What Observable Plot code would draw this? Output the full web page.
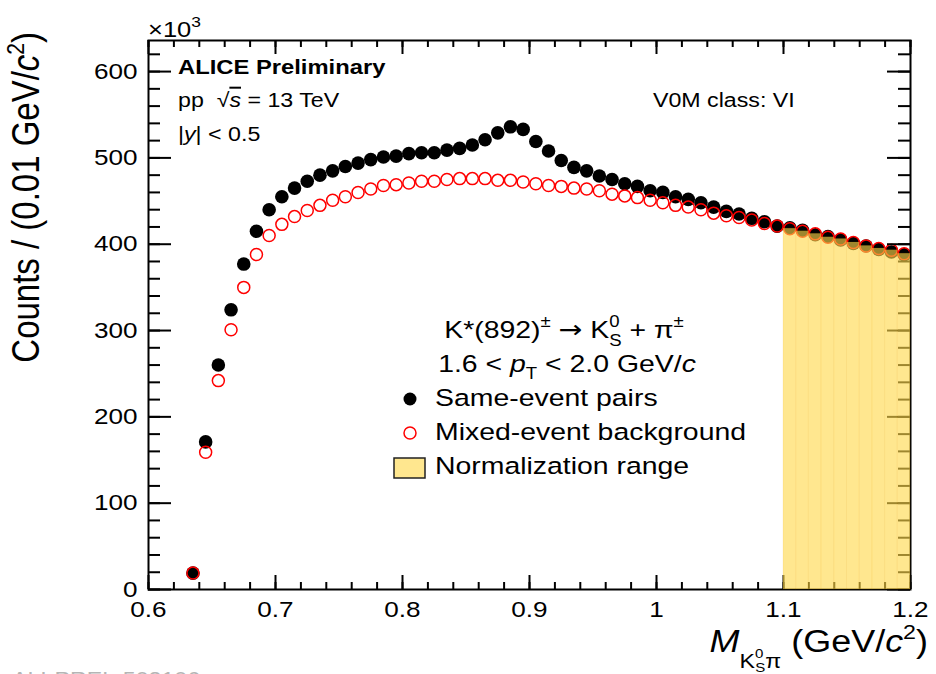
<!DOCTYPE html>
<html>
<head>
<meta charset="utf-8">
<script src="https://cdn.jsdelivr.net/npm/d3@7"></script>
<script src="https://cdn.jsdelivr.net/npm/@observablehq/plot@0.6"></script>
<style>
  html, body { margin: 0; padding: 0; background: #fff; }
  #chart svg { display: block; overflow: hidden; }
</style>
</head>
<body>
<div id="chart"></div>
<script>
// ---- data (counts in units of 10^3 per 0.01 GeV/c^2 bin) ----
const massBins = [0.635, 0.645, 0.655, 0.665, 0.675, 0.685, 0.695, 0.705, 0.715, 0.725,
  0.735, 0.745, 0.755, 0.765, 0.775, 0.785, 0.795, 0.805, 0.815, 0.825,
  0.835, 0.845, 0.855, 0.865, 0.875, 0.885, 0.895, 0.905, 0.915, 0.925,
  0.935, 0.945, 0.955, 0.965, 0.975, 0.985, 0.995, 1.005, 1.015, 1.025,
  1.035, 1.045, 1.055, 1.065, 1.075, 1.085, 1.095, 1.105, 1.115, 1.125,
  1.135, 1.145, 1.155, 1.165, 1.175, 1.185, 1.195];
const sameEvent = [19, 171, 260, 324, 377, 415, 440, 455, 465, 473,
  480, 485, 490, 494, 498, 501, 502, 505, 506, 506,
  509, 511, 515, 521, 529, 536, 533, 519, 508, 497,
  489, 485, 479, 475, 470, 467, 462, 460, 455, 452,
  448, 443, 438, 435, 430, 426, 421, 419, 416, 411,
  409, 405, 401, 398, 394, 391, 388];
const mixedEvent = [19, 159, 242, 301, 350, 388, 410, 423, 432, 439,
  445, 451, 455, 460, 464, 468, 469, 471, 473, 473,
  475, 476, 476, 476, 474, 474, 472, 470, 468, 467,
  465, 464, 462, 458, 456, 454, 451, 448, 445, 443,
  440, 436, 433, 431, 428, 424, 421, 418, 415, 412,
  408, 406, 402, 398, 395, 393, 389];
const binWidth = 0.01;
const normRange = [1.1, 1.2];
const xTickLabels = [0.6, 0.7, 0.8, 0.9, 1, 1.1, 1.2];
const yTickLabels = [0, 100, 200, 300, 400, 500, 600];
const xDomain = [0.6, 1.2];
const yDomain = [0, 636];

// ---- layout ----
const W = 936, H = 674;
const mL = 148, mR = 26, mT = 40, mB = 85;
const plotW = W - mL - mR, plotH = H - mT - mB;
const FONT = "'Liberation Sans', Arial, Helvetica, sans-serif";
const K = 1.16; // horizontal glyph stretch seen in the reference
const yellow = "#ffd84a";

const data = massBins.map((m, i) => ({m, same: sameEvent[i], mixed: mixedEvent[i]}));
const normData = data.filter(d => d.m > normRange[0] && d.m < normRange[1]);

const xMinor = d3.range(0, 31).map(i => +(0.6 + i * 0.02).toFixed(2));
const yMinor = d3.range(0, 32).map(i => i * 20);

const plot = Plot.plot({
  width: W, height: H,
  marginLeft: mL, marginRight: mR, marginTop: mT, marginBottom: mB,
  x: {domain: xDomain},
  y: {domain: yDomain},
  style: {fontFamily: FONT, background: "#fff", color: "#000", overflow: "hidden"},
  marks: [
    Plot.dot(data, {x: "m", y: "same", r: 6.8, fill: "#000", stroke: "none"}),
    Plot.dot(data, {x: "m", y: "mixed", r: 6, fill: "none", stroke: "#ff0000", strokeWidth: 1.5}),
    Plot.frame({stroke: "#000", strokeWidth: 2}),
    // bottom ticks
    Plot.tickX(xMinor, {x: d => d, insetTop: plotH - 7, stroke: "#000", strokeWidth: 2}),
    Plot.tickX(xTickLabels, {x: d => d, insetTop: plotH - 14, stroke: "#000", strokeWidth: 2}),
    // top ticks
    Plot.tickX(xMinor, {x: d => d, insetBottom: plotH - 7, stroke: "#000", strokeWidth: 2}),
    Plot.tickX(xTickLabels, {x: d => d, insetBottom: plotH - 14, stroke: "#000", strokeWidth: 2}),
    // left ticks
    Plot.tickY(yMinor, {y: d => d, insetRight: plotW - 12, stroke: "#000", strokeWidth: 2}),
    Plot.tickY(yTickLabels, {y: d => d, insetRight: plotW - 23, stroke: "#000", strokeWidth: 2}),
    // right ticks
    Plot.tickY(yMinor, {y: d => d, insetLeft: plotW - 12, stroke: "#000", strokeWidth: 2}),
    Plot.tickY(yTickLabels, {y: d => d, insetLeft: plotW - 23, stroke: "#000", strokeWidth: 2}),
    // normalization range (histogram of mixed-event background), drawn over everything
    Plot.rectY(normData, {
      x1: d => d.m - binWidth / 2, x2: d => d.m + binWidth / 2, y1: 0, y2: "mixed",
      fill: yellow, fillOpacity: 0.62, stroke: "#e8a800", strokeOpacity: 0.1, strokeWidth: 1
    }),
    Plot.axisX({ticks: xTickLabels, tickSize: 0, tickPadding: 12, fontSize: 22.5, label: null, tickFormat: d => String(d)}),
    Plot.axisY({ticks: yTickLabels, tickSize: 0, tickPadding: 11, fontSize: 22.5, label: null, tickFormat: d => String(d)})
  ]
});

document.getElementById("chart").appendChild(plot);

const svg = d3.select(plot);
// stretch tick labels horizontally like the reference
svg.selectAll('g[aria-label$="tick label"] text').each(function() {
  const t = d3.select(this);
  const tr = t.attr("transform") || "";
  t.attr("transform", tr + ` scale(${K},1)`);
});

function txt(x, y, size, opts = {}) {
  const t = svg.append("text")
    .attr("x", 0).attr("y", 0)
    .attr("transform", opts.transform || `translate(${x},${y}) scale(${K},1)`)
    .attr("font-family", FONT)
    .attr("font-size", size)
    .attr("text-anchor", opts.anchor || "start")
    .attr("fill", opts.fill || "#000");
  if (opts.bold) t.attr("font-weight", "bold");
  return t;
}
function span(t, s, o = {}) {
  const ts = t.append("tspan").text(s);
  if (o.size) ts.attr("font-size", o.size);
  if (o.dy) ts.attr("dy", o.dy);
  if (o.dx) ts.attr("dx", o.dx);
  if (o.italic) ts.attr("font-style", "italic");
  if (o.family) ts.attr("font-family", o.family);
  if (o.deco) ts.attr("text-decoration", o.deco);
  return ts;
}

// x10^3
{
  const t = txt(148, 37, 22);
  span(t, "×10");
  span(t, "3", {size: 15, dy: -10});
}
// ALICE labels
txt(178, 74, 20.5, {bold: true}).text("ALICE Preliminary");
{
  const t = txt(178, 107, 20);
  span(t, "pp  √");
  span(t, "s", {italic: true, deco: "overline"});
  span(t, " = 13 TeV");
}
{
  const t = txt(178, 141, 20);
  span(t, "|");
  span(t, "y", {italic: true});
  span(t, "| < 0.5");
}
txt(653, 107, 20).text("V0M class: VI");

// legend header
{
  const t = txt(564, 338, 24.5, {anchor: "middle"});
  span(t, "K*(892)");
  span(t, "±", {size: 16, dy: -11});
  span(t, " ", {size: 24.5, dy: 11});
  span(t, "→", {size: 24.5, family: "'DejaVu Sans', sans-serif"});
  span(t, " K", {size: 24.5});
  span(t, "0", {size: 16, dy: -11});
  span(t, "S", {size: 16, dx: -9, dy: 19});
  span(t, " + π", {size: 24.5, dy: -8});
  span(t, "±", {size: 16, dy: -11});
}
{
  const t = txt(567, 372, 24.5, {anchor: "middle"});
  span(t, "1.6 < ");
  span(t, "p", {italic: true});
  span(t, "T", {size: 16, dy: 7});
  span(t, " < 2.0 GeV/", {size: 24.5, dy: -7});
  span(t, "c", {italic: true});
}
// legend entries
svg.append("circle").attr("cx", 410).attr("cy", 399).attr("r", 6.5).attr("fill", "#000");
svg.append("circle").attr("cx", 410).attr("cy", 433).attr("r", 6).attr("fill", "none")
  .attr("stroke", "#ff0000").attr("stroke-width", 1.5);
svg.append("rect").attr("x", 394).attr("y", 458).attr("width", 31).attr("height", 20)
  .attr("fill", yellow).attr("fill-opacity", 0.62).attr("stroke", "#222").attr("stroke-width", 1.5);
txt(435, 406, 24.5).text("Same-event pairs");
txt(435, 440, 24.5).text("Mixed-event background");
txt(435, 474, 24.5).text("Normalization range");

// axis titles
{
  const t = txt(928, 652, 31, {anchor: "end"});
  span(t, "M", {italic: true});
  span(t, "K", {size: 20, dy: 16});
  span(t, "0", {size: 13, dy: -10});
  span(t, "S", {size: 13, dx: -7, dy: 14});
  span(t, "π", {size: 20, dy: -4});
  span(t, " (GeV/", {size: 31, dy: -16});
  span(t, "c", {italic: true});
  span(t, "2", {size: 20, dy: -13});
  span(t, ")", {size: 31, dy: 13});
}
{
  const t = txt(0, 0, 33, {anchor: "end", transform: `translate(39,32) scale(${K},1) rotate(-90)`});
  span(t, "Counts / (0.01 GeV/");
  span(t, "c", {italic: true});
  span(t, "2", {size: 21, dy: -13});
  span(t, ")", {size: 33, dy: 13});
}
// figure id, cut off at the bottom edge as in the reference
txt(12, 686, 20, {fill: "#b5b5b5"}).text("ALI-PREL-502106");
</script>
</body>
</html>
